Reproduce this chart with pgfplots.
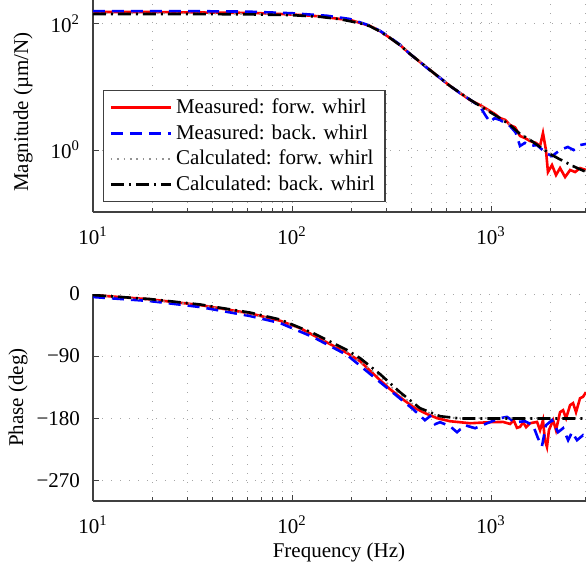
\documentclass[border=0pt]{standalone}
\usepackage{fontspec}
\setmainfont{Liberation Serif}
\usepackage{pgfplots}
\pgfplotsset{compat=1.18}

\newcommand{\fs}{\fontsize{10.5}{12.6}\selectfont}

\tikzset{
  meas f/.style={red, solid, line width=1.3pt},
  meas b/.style={blue, line width=1.3pt, dash pattern=on 6pt off 3.5pt},
  calc f/.style={gray!85, line width=0.8pt, dash pattern=on 0.8pt off 2.4pt},
  calc b/.style={black, line width=1.3pt, dash pattern=on 6.5pt off 2.5pt on 1pt off 2.5pt},
}

\pgfplotsset{
  every axis/.append style={
    scale only axis, width=246.5pt,
    xmin=10, xmax=3000,
    axis x line*=bottom, axis y line*=left,
    axis line style={-, black!75, line width=0.6pt},
    tick align=inside, major tick length=3pt, minor tick length=2pt,
    tick style={black!75, line width=0.5pt},
    xtick={10,100,1000},
    xticklabels={10\textsuperscript{1},10\textsuperscript{2},10\textsuperscript{3}},
    minor xtick={20,30,40,50,60,70,80,90,200,300,400,500,600,700,800,900,2000,3000},
    xmajorgrids, xminorgrids, ymajorgrids,
    grid style={gray!70, line width=0.5pt, dash pattern=on 0.6pt off 3.9pt},
    minor grid style={gray!70, line width=0.5pt, dash pattern=on 0.6pt off 3.9pt},
    tick label style={font=\fs},
    label style={font=\fs},
    xticklabel style={yshift=-4pt},
    yticklabel style={xshift=-3pt},
  },
}

\begin{document}
\begin{tikzpicture}

% magnitude
\begin{axis}[
  xmode=log, ymode=log,
  at={(0,0)}, anchor=north west, height=106pt,
  ymin=0.104, ymax=240,
  ytick={1,100}, yticklabels={10\textsuperscript{0},10\textsuperscript{2}},
  ylabel={Magnitude (µm/N)},
  ylabel style={at={(axis description cs:-0.142,0.472)}, anchor=center},
  legend style={at={(axis description cs:0.02,0.047)}, anchor=south west,
    draw=black!75, line width=0.6pt, font=\fs, inner xsep=3pt, inner ysep=2pt},
  legend cell align=left,
  legend image code/.code={\draw[#1] (0pt,0pt) -- (30pt,0pt);},
]
\addplot[meas f] coordinates {
  (10,155) (19.3,155) (34.5,152) (61.5,150) (87.1,144) (109.7,139) (138.3,132)
  (174.2,120) (195.6,116) (219.6,104) (246.6,93) (276.8,77) (310.7,60)
  (348.9,46.4) (391.7,33.4) (439.7,24.9) (493.6,18.6) (554.2,13.9) (622.2,10.4)
  (698.5,8.03) (784.2,6.22) (880.4,5.18) (988.4,4.16) (1050,3.7) (1109.6,3.22)
  (1180,3.0) (1245.7,2.49) (1320,2.3) (1398.5,1.67) (1480,1.55) (1570,1.39)
  (1680,1.3) (1762.6,1.16) (1824,1.86) (1888,1.0) (1932,0.448) (2024,0.578)
  (2121,0.401) (2222,0.518) (2356,0.373) (2496,0.482) (2645,0.448) (2801,0.518)
  (3000,0.482)
};
\addlegendentry{Measured: forw. whirl}
\addplot[meas b] coordinates {
  (10,160) (30,160) (60,157) (100,148) (150,135) (195,120) (220,106)
  (246.6,94) (276.8,78) (310.7,61) (348.9,47) (391.7,33.4) (439.7,25)
  (493.6,18.3) (554.2,14) (622.2,10.4) (698.5,8.0) (784.2,6.3) (880.4,4.9)
  (940,3.5) (988.4,2.78) (1040,3.2) (1109.6,3.0) (1245.7,2.4) (1330,1.9)
  (1398.5,1.16) (1480,1.3) (1570,1.16) (1700,1.2) (1888,0.9) (2024,0.8)
  (2222,1.0) (2430,1.12) (2600,1.0) (2800,1.2) (3000,1.25)
};
\addlegendentry{Measured: back. whirl}
\addplot[calc f] coordinates {
  (10,147) (30,147) (61.5,145) (100,140) (138.3,131) (174.2,121) (219.6,106)
  (246.6,95) (276.8,79) (310.7,62) (348.9,47.5) (391.7,34.5) (439.7,25.5)
  (493.6,19) (554.2,14.2) (622.2,10.6) (698.5,8.2) (784.2,6.4) (880.4,5.1)
  (988.4,4.1) (1109.6,3.25) (1245.7,2.55) (1398.5,1.85) (1570,1.48)
  (1762.6,1.15) (2000,0.88) (2300,0.69) (2600,0.56) (3000,0.46)
};
\addlegendentry{Calculated: forw. whirl}
\addplot[calc b] coordinates {
  (10,144) (30,144) (61.5,142) (100,138) (138.3,130) (174.2,119) (219.6,103)
  (246.6,92) (276.8,76) (310.7,60) (348.9,46) (391.7,33.4) (439.7,25)
  (493.6,18.6) (554.2,13.9) (622.2,10.4) (698.5,8.1) (784.2,6.3) (880.4,5.0)
  (988.4,4.0) (1109.6,3.2) (1245.7,2.5) (1398.5,1.8) (1570,1.45)
  (1762.6,1.12) (2000,0.85) (2300,0.67) (2600,0.55) (3000,0.45)
};
\addlegendentry{Calculated: back. whirl}
\end{axis}

% phase
\begin{axis}[
  xmode=log,
  at={(0,-147pt)}, anchor=north west, height=103.5pt,
  ymin=-300, ymax=0,
  ytick={0,-90,-180,-270}, yticklabels={0,−90,−180,−270},
  ylabel={Phase (deg)},
  ylabel style={at={(axis description cs:-0.152,0.5)}, anchor=center},
  xlabel={Frequency (Hz)},
  xlabel style={at={(axis description cs:0.499,-0.251)}, anchor=center},
]
\addplot[meas f] coordinates {
  (10,-1.5) (19.3,-7.7) (34.5,-16) (61.5,-28) (87.1,-38.8) (109.7,-49.4)
  (127.5,-59.5) (155.3,-72.6) (189.2,-85.6) (219.6,-97.3) (276.8,-124.8)
  (310.7,-137.9) (348.9,-149.5) (405.5,-163.6) (465.6,-172.7) (535.7,-180)
  (622.2,-184.4) (784.2,-187.3) (988.4,-185.8) (1148,-185.4) (1245.7,-188.3)
  (1300,-183) (1350,-194) (1398.5,-192.6) (1450,-186) (1500,-193) (1570,-187.3)
  (1703,-185.4) (1762.6,-197.4) (1824,-182.9) (1866,-211.9) (1910,-221.7)
  (1954,-197.4) (2051,-182.9) (2121,-197.4) (2222,-171.3) (2301,-168.4)
  (2383,-180) (2496,-161.1) (2583,-158.2) (2673,-171.3) (2801,-151)
  (2897,-149.1) (3000,-142.3)
};
\addplot[meas b] coordinates {
  (10,-4.4) (19.3,-10.2) (34.5,-18.9) (61.5,-31.9) (87.1,-42.1) (127.5,-62.4)
  (189.2,-88.5) (276.8,-127.7) (405.5,-166.9) (465.6,-182.9) (493.6,-177.1)
  (523.6,-188.7) (554.2,-185.8) (622.2,-191.6) (674.6,-200.3) (739.6,-190.2)
  (831.8,-194.5) (955.6,-187.3) (1109.6,-180) (1202,-178.1) (1320,-185.8)
  (1482,-184.4) (1625,-190.2) (1722,-209) (1803,-220.6) (1888,-190.2)
  (2024,-182.9) (2171,-200.3) (2301,-194.5) (2439,-211.9) (2553,-200.3)
  (2704,-211.9) (2897,-204.7) (3000,-209)
};
\addplot[calc f] coordinates {
  (10,-1.5) (34.5,-15.5) (87.1,-38) (127.5,-58) (189.2,-84) (276.8,-120)
  (348.9,-146) (439.7,-167) (554.2,-178) (698.5,-180) (3000,-180)
};
\addplot[calc b] coordinates {
  (10,-1.5) (19.3,-7.3) (34.5,-15.2) (61.5,-26.9) (87.1,-37) (127.5,-56.6)
  (189.2,-81.3) (219.6,-92.9) (276.8,-116.1) (348.9,-142.3) (439.7,-165.5)
  (554.2,-177.1) (698.5,-180.4) (3000,-180.4)
};
\end{axis}

\pgfresetboundingbox
\path (-46.5pt,0pt) rectangle (246.5pt,-284pt);
\end{tikzpicture}
\end{document}
